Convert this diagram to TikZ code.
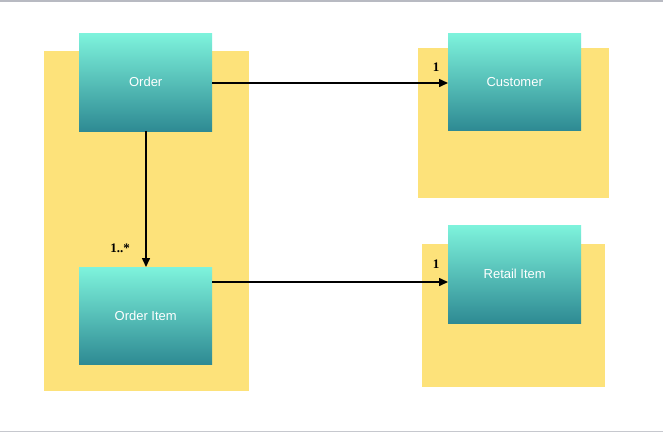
\documentclass[tikz,border=0pt]{standalone}
\usepackage{fontspec}
\setmainfont{Liberation Sans}
\newfontfamily\lblfont{Liberation Serif}
\usetikzlibrary{arrows.meta}
\definecolor{panel}{HTML}{FDE27A}
\definecolor{gtop}{HTML}{7EF3DC}
\definecolor{gbot}{HTML}{2E8A93}
\definecolor{frame}{HTML}{B8BAC2}
\tikzset{
  x=1pt,y=-1pt,
  panelbox/.style={fill=panel,draw=none},
  entity/.style={draw=none,top color=gtop,bottom color=gbot,minimum width=133pt,minimum height=98pt,inner sep=0pt,text=white,font=\fontsize{13}{15}\selectfont,anchor=north west},
  link/.style={line width=1.5pt,-{Triangle[length=9pt,width=8pt]}},
  mult/.style={font=\lblfont\bfseries\fontsize{13}{15}\selectfont,inner sep=0pt}
}
\begin{document}
\begin{tikzpicture}
\useasboundingbox (0,0) rectangle (663,432);
\fill[white] (0,0) rectangle (663,432);
\fill[frame] (0,0) rectangle (663,2);
\fill[frame!80] (0,430.5) rectangle (663,432);
\fill[panelbox] (44,51) rectangle (249,391);
\fill[panelbox] (418,48) rectangle (609,198);
\fill[panelbox] (422,244) rectangle (605,387);
\node[entity] (order) at (79,33) {\raisebox{-1pt}{Order}};
\node[entity,minimum height=97pt] (orderitem) at (79,267) {\raisebox{-1pt}{Order Item}};
\node[entity,minimum height=97pt] (customer) at (448,33) {\raisebox{-1pt}{Customer}};
\node[entity] (retail) at (448,225) {\raisebox{-1pt}{Retail Item}};
\draw[link] (order.east |- 0,83) -- (customer.west |- 0,83);
\draw[link] (order.south -| 146,0) -- (orderitem.north -| 146,0);
\draw[link] (orderitem.east |- 0,282) -- (retail.west |- 0,282);
\node[mult] (m1) at (436,67) {1};
\node[mult] (m2) at (120,248) {1..*};
\node[mult] (m3) at (436,264) {1};
\end{tikzpicture}
\end{document}
